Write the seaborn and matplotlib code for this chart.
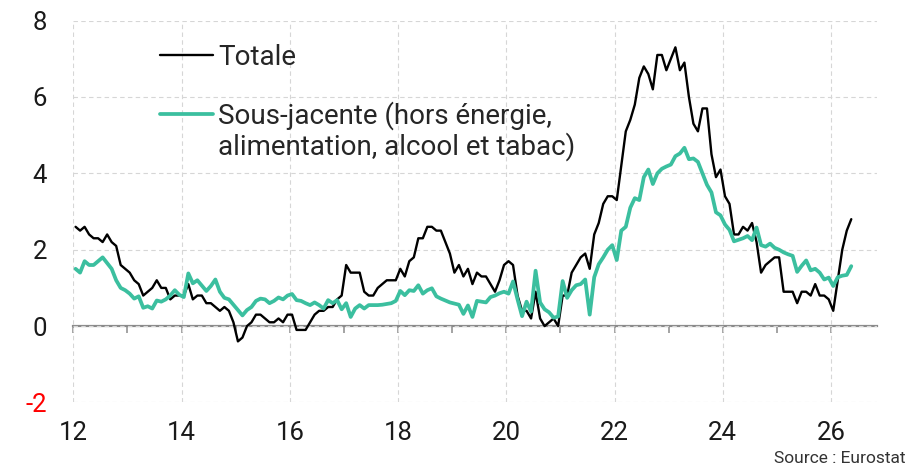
import numpy as np
import pandas as pd
import seaborn as sns
import matplotlib.pyplot as plt
from matplotlib.lines import Line2D
from matplotlib.ticker import MultipleLocator

# IPCH France, glissement annuel en %, mensuel de janvier 2012 a mai 2026
totale = [
    2.6, 2.5, 2.6, 2.4, 2.3, 2.3, 2.2, 2.4, 2.2, 2.1, 1.6, 1.5,   # 2012
    1.4, 1.2, 1.1, 0.8, 0.9, 1.0, 1.2, 1.0, 1.0, 0.7, 0.8, 0.8,   # 2013
    0.8, 1.1, 0.7, 0.8, 0.8, 0.6, 0.6, 0.5, 0.4, 0.5, 0.4, 0.1,   # 2014
    -0.4, -0.3, 0.0, 0.1, 0.3, 0.3, 0.2, 0.1, 0.1, 0.2, 0.1, 0.3,  # 2015
    0.3, -0.1, -0.1, -0.1, 0.1, 0.3, 0.4, 0.4, 0.5, 0.5, 0.7, 0.8,  # 2016
    1.6, 1.4, 1.4, 1.4, 0.9, 0.8, 0.8, 1.0, 1.1, 1.2, 1.2, 1.2,   # 2017
    1.5, 1.3, 1.7, 1.8, 2.3, 2.3, 2.6, 2.6, 2.5, 2.5, 2.2, 1.9,   # 2018
    1.4, 1.6, 1.3, 1.5, 1.1, 1.4, 1.3, 1.3, 1.1, 0.9, 1.2, 1.6,   # 2019
    1.7, 1.6, 0.8, 0.4, 0.4, 0.2, 0.9, 0.2, 0.0, 0.1, 0.2, 0.0,   # 2020
    0.8, 0.8, 1.4, 1.6, 1.8, 1.9, 1.5, 2.4, 2.7, 3.2, 3.4, 3.4,   # 2021
    3.3, 4.2, 5.1, 5.4, 5.8, 6.5, 6.8, 6.6, 6.2, 7.1, 7.1, 6.7,   # 2022
    7.0, 7.3, 6.7, 6.9, 6.0, 5.3, 5.1, 5.7, 5.7, 4.5, 3.9, 4.1,   # 2023
    3.4, 3.2, 2.4, 2.4, 2.6, 2.5, 2.7, 2.2, 1.4, 1.6, 1.7, 1.8,   # 2024
    1.8, 0.9, 0.9, 0.9, 0.6, 0.9, 0.9, 0.8, 1.1, 0.8, 0.8, 0.7,   # 2025
    0.4, 1.2, 2.0, 2.5, 2.8,                                      # 2026
]

sous_jacente = [
    1.5, 1.4, 1.7, 1.6, 1.6, 1.7, 1.8, 1.65, 1.5, 1.2, 1.0, 0.94,       # 2012
    0.85, 0.72, 0.78, 0.48, 0.52, 0.46, 0.67, 0.64, 0.7, 0.8, 0.94, 0.82,  # 2013
    0.76, 1.38, 1.12, 1.2, 1.06, 0.92, 1.05, 1.22, 0.9, 0.74, 0.7, 0.56,   # 2014
    0.42, 0.28, 0.42, 0.5, 0.66, 0.72, 0.7, 0.6, 0.66, 0.75, 0.7, 0.8,     # 2015
    0.84, 0.68, 0.66, 0.6, 0.55, 0.62, 0.55, 0.46, 0.68, 0.6, 0.68, 0.44,  # 2016
    0.6, 0.24, 0.46, 0.55, 0.46, 0.55, 0.55, 0.55, 0.56, 0.58, 0.6, 0.66,  # 2017
    0.92, 0.81, 0.94, 0.92, 1.07, 0.85, 0.94, 0.99, 0.78, 0.72, 0.67, 0.62,  # 2018
    0.59, 0.56, 0.32, 0.54, 0.24, 0.66, 0.64, 0.62, 0.76, 0.8, 0.86, 0.9,  # 2019
    0.85, 1.17, 0.7, 0.26, 0.64, 0.38, 1.45, 0.62, 0.44, 0.36, 0.22, 0.25,  # 2020
    1.18, 0.74, 0.94, 1.07, 1.1, 1.22, 0.3, 1.28, 1.62, 1.8, 2.0, 2.12,    # 2021
    1.73, 2.5, 2.6, 3.1, 3.35, 3.3, 3.9, 4.1, 3.72, 4.0, 4.12, 4.18,       # 2022
    4.23, 4.45, 4.52, 4.67, 4.37, 4.39, 4.3, 4.0, 3.7, 3.5, 2.98, 2.9,     # 2023
    2.66, 2.52, 2.22, 2.26, 2.3, 2.36, 2.25, 2.58, 2.12, 2.08, 2.16, 2.05,  # 2024
    2.0, 1.93, 1.88, 1.84, 1.42, 1.58, 1.72, 1.46, 1.5, 1.4, 1.22, 1.27,   # 2025
    1.05, 1.28, 1.32, 1.34, 1.57,                                          # 2026
]

debut = "2012-01"
x_ticks = [12, 14, 16, 18, 20, 22, 24, 26]
y_ticks = [-2, 0, 2, 4, 6, 8]
label_totale = "Totale"
label_sj_1 = "Sous-jacente (hors énergie,"
label_sj_2 = "alimentation, alcool et tabac)"
source = "Source : Eurostat"

couleur_totale = "#000000"
couleur_sj = "#3bbf9f"

# axe des x : annees sur deux chiffres, point au milieu du mois
mois = pd.date_range(debut, periods=len(totale), freq="MS")
annee = (mois.year - 2000) + (mois.month - 0.5) / 12
df_tot = pd.DataFrame({"annee": annee, "valeur": totale})
df_sj = pd.DataFrame({"annee": annee, "valeur": sous_jacente})

sns.set_theme(style="white")
plt.rcParams["font.family"] = ["Roboto", "DejaVu Sans"]
plt.rcParams["axes.unicode_minus"] = False

fig, ax = plt.subplots(figsize=(9.12, 4.68), dpi=100)
fig.subplots_adjust(left=0.0804, right=0.9616, top=0.956, bottom=0.14)

sns.lineplot(data=df_tot, x="annee", y="valeur", color=couleur_totale,
             linewidth=1.7, ax=ax, zorder=3)
sns.lineplot(data=df_sj, x="annee", y="valeur", color=couleur_sj,
             linewidth=2.7, ax=ax, zorder=4)

ax.set_xlim(12, 26.85)
ax.set_ylim(-2, 8)
ax.set_xticks(x_ticks)
ax.set_yticks(y_ticks)
ax.set_xlabel("")
ax.set_ylabel("")

for s in ax.spines.values():
    s.set_visible(False)
ax.grid(True, color="#d6d6d6", linestyle=(0, (4, 3)), linewidth=0.8)
ax.set_axisbelow(True)

ax.tick_params(axis="x", length=0, pad=13, labelsize=18.5, labelcolor="#1a1a1a")
ax.tick_params(axis="y", length=0, pad=19, labelsize=18.5, labelcolor="#1a1a1a")
for lab in ax.get_yticklabels():
    if lab.get_text().startswith("-"):
        lab.set_color("#ff0000")

# ligne du zero avec graduations annuelles
zero = ax.secondary_xaxis(0.2)
zero.set_xticks(x_ticks)
zero.xaxis.set_minor_locator(MultipleLocator(1))
zero.tick_params(which="both", direction="out", length=5, width=1.1,
                 color="#8a8a8a", labelbottom=False)
zero.spines["bottom"].set_color("#8a8a8a")
zero.spines["bottom"].set_linewidth(1.6)

handles = [
    Line2D([], [], color=couleur_totale, linewidth=1.7),
    Line2D([], [], color="none"),
    Line2D([], [], color=couleur_sj, linewidth=2.7),
    Line2D([], [], color="none"),
]
labels = [label_totale, " ", label_sj_1, label_sj_2]
ax.legend(handles, labels, loc="upper left", bbox_to_anchor=(0.108, 0.94),
          frameon=False, fontsize=20, handlelength=1.9, handletextpad=0.18,
          labelspacing=0.07, borderpad=0, borderaxespad=0)

fig.text(0.993, 0.004, source, ha="right", va="bottom", fontsize=12.5,
         color="#333333")

fig.savefig("out.png", dpi=100)
